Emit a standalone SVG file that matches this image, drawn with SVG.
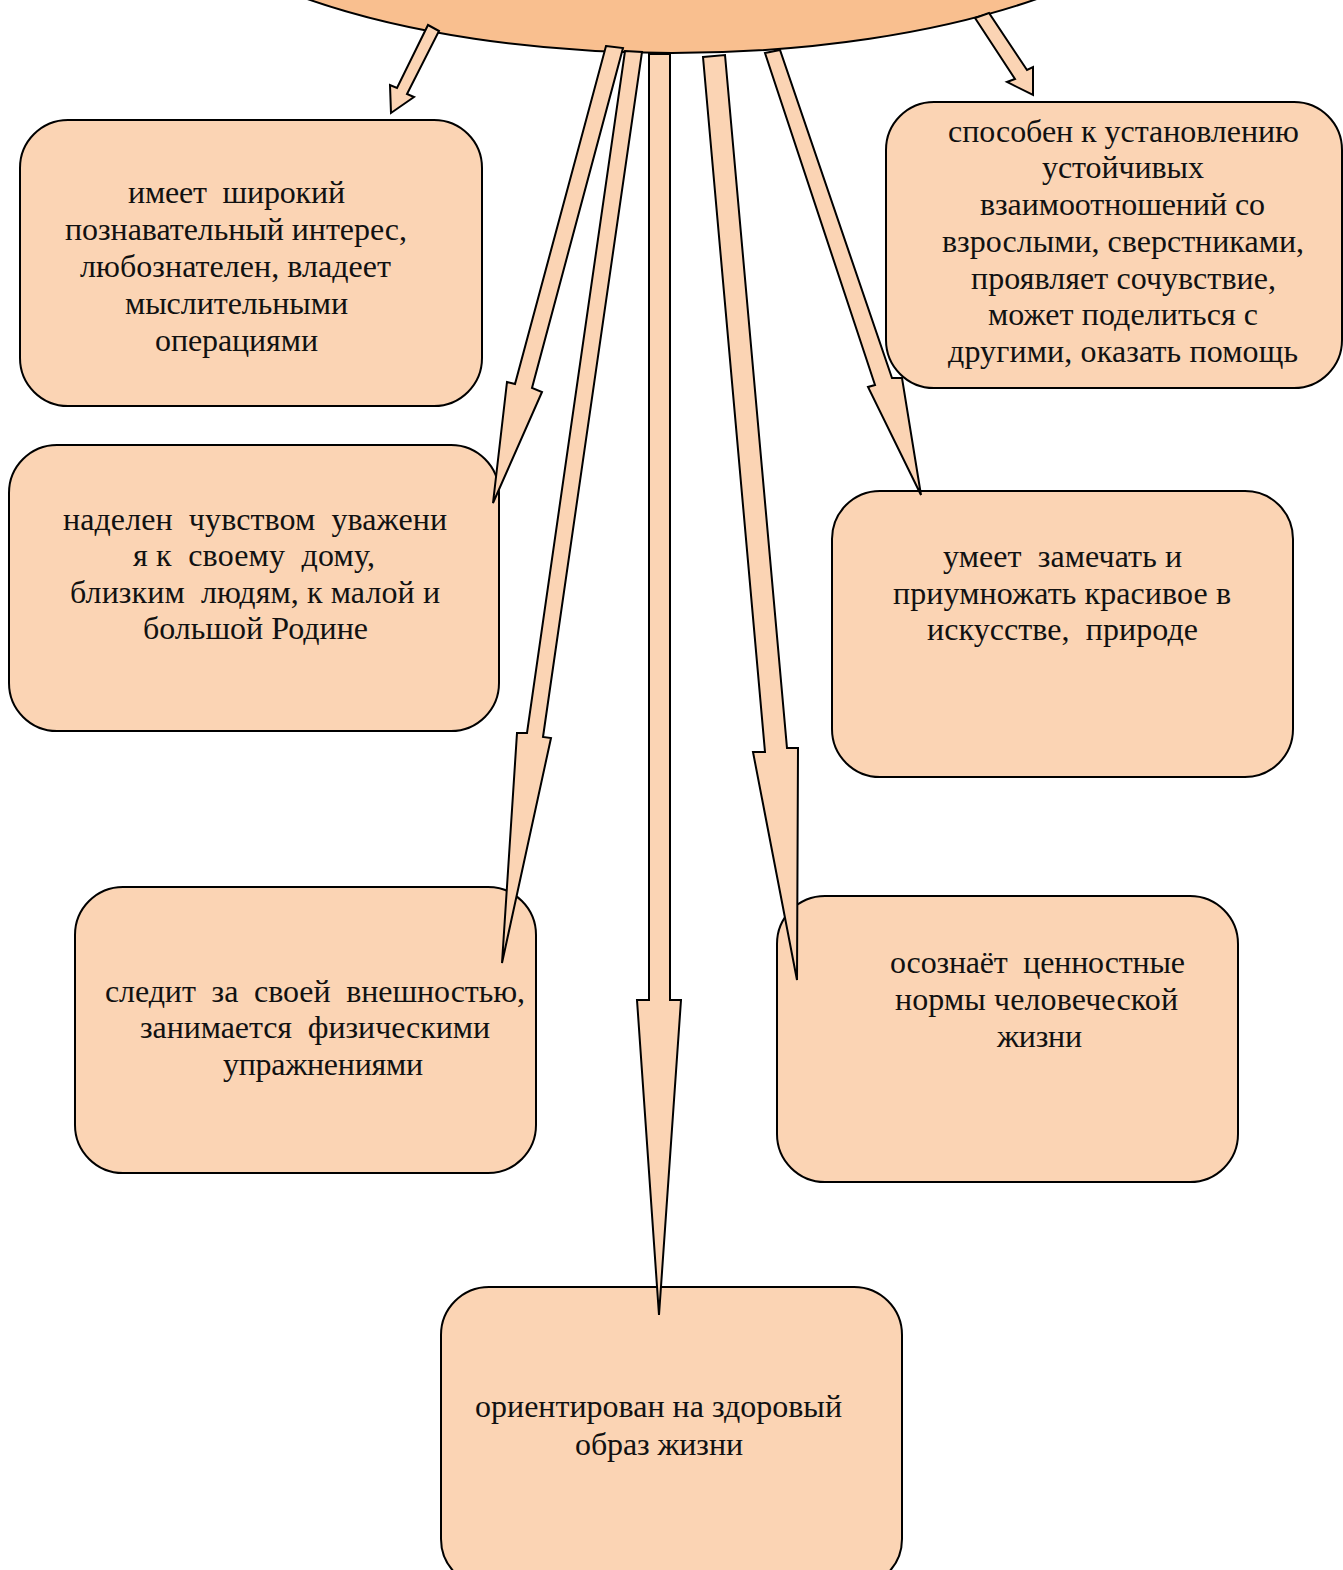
<svg xmlns="http://www.w3.org/2000/svg" width="1343" height="1570" viewBox="0 0 1343 1570">
<style>
.box{fill:#FBD4B4;stroke:#000;stroke-width:2}
.ell{fill:#F9BF8F;stroke:#000;stroke-width:2}
.arr{fill:#FBD4B4;stroke:#000;stroke-width:2;stroke-linejoin:miter}
text{font-family:"Liberation Serif","Times New Roman",serif;font-size:32px;fill:#111;white-space:pre}
</style>
<rect width="1343" height="1570" fill="#fff"/>
<g id="center"><ellipse class="ell" cx="672" cy="-150" rx="537" ry="203"/></g>
<g id="n1"><rect class="box" x="20" y="120" width="462" height="286" rx="48"/>
<text x="128" y="203" textLength="217" lengthAdjust="spacing">имеет  широкий</text>
<text x="65" y="240" textLength="342" lengthAdjust="spacing">познавательный интерес,</text>
<text x="80" y="277" textLength="311" lengthAdjust="spacing">любознателен, владеет</text>
<text x="125" y="314" textLength="223" lengthAdjust="spacing">мыслительными</text>
<text x="155" y="351" textLength="163" lengthAdjust="spacing">операциями</text></g>
<g id="n2"><rect class="box" x="886" y="102" width="456" height="286" rx="48"/>
<text x="948" y="142" textLength="351" lengthAdjust="spacing">способен к установлению</text>
<text x="1042" y="178" textLength="162" lengthAdjust="spacing">устойчивых</text>
<text x="980" y="215" textLength="285" lengthAdjust="spacing">взаимоотношений со</text>
<text x="942" y="252" textLength="362" lengthAdjust="spacing">взрослыми, сверстниками,</text>
<text x="971" y="289" textLength="305" lengthAdjust="spacing">проявляет сочувствие,</text>
<text x="988" y="325" textLength="270" lengthAdjust="spacing">может поделиться с</text>
<text x="948" y="362" textLength="350" lengthAdjust="spacing">другими, оказать помощь</text></g>
<g id="n3"><rect class="box" x="9" y="445" width="490" height="286" rx="48"/>
<text x="63" y="530" textLength="384" lengthAdjust="spacing">наделен  чувством  уважени</text>
<text x="133" y="566" textLength="242" lengthAdjust="spacing">я к  своему  дому,</text>
<text x="70" y="603" textLength="370" lengthAdjust="spacing">близким  людям, к малой и</text>
<text x="143" y="639" textLength="225" lengthAdjust="spacing">большой Родине</text></g>
<g id="n4"><rect class="box" x="832" y="491" width="461" height="286" rx="48"/>
<text x="943" y="567" textLength="239" lengthAdjust="spacing">умеет  замечать и</text>
<text x="893" y="604" textLength="338" lengthAdjust="spacing">приумножать красивое в</text>
<text x="927" y="640" textLength="271" lengthAdjust="spacing">искусстве,  природе</text></g>
<g id="n5"><rect class="box" x="75" y="887" width="461" height="286" rx="48"/>
<text x="105" y="1002" textLength="420" lengthAdjust="spacing">следит  за  своей  внешностью,</text>
<text x="140" y="1038" textLength="350" lengthAdjust="spacing">занимается  физическими</text>
<text x="223" y="1075" textLength="200" lengthAdjust="spacing">упражнениями</text></g>
<g id="n6"><rect class="box" x="777" y="896" width="461" height="286" rx="48"/>
<text x="890" y="973" textLength="295" lengthAdjust="spacing">осознаёт  ценностные</text>
<text x="895" y="1010" textLength="283" lengthAdjust="spacing">нормы человеческой</text>
<text x="997" y="1047" textLength="85" lengthAdjust="spacing">жизни</text></g>
<g id="n7"><rect class="box" x="441" y="1287" width="461" height="300" rx="48"/>
<text x="475" y="1417" textLength="367" lengthAdjust="spacing">ориентирован на здоровый</text>
<text x="575" y="1455" textLength="168" lengthAdjust="spacing">образ жизни</text></g>
<g id="connectors">
<polygon class="arr" points="428,25 439,31 407,94 414,97 391,113 390,85 397,88"/>
<polygon class="arr" points="975,18 1015,79 1007,82 1033,95 1033,67 1027,70 989,13"/>
<polygon class="arr" points="606,46 623,48 532,388 542,392 493,503 507,382 515,384"/>
<polygon class="arr" points="625,51 642,52 543,737 551,738 502,963 517,733 527,733"/>
<polygon class="arr" points="649,54 670,54 670,1000 681,1000 659,1315 637,1000 649,1000"/>
<polygon class="arr" points="703,57 725,55 787,748 798,748 797,980 753,752 765,752"/>
<polygon class="arr" points="765,53 780,50 892,378 902,378 921,495 868,387 875,385"/>
</g>
</svg>
